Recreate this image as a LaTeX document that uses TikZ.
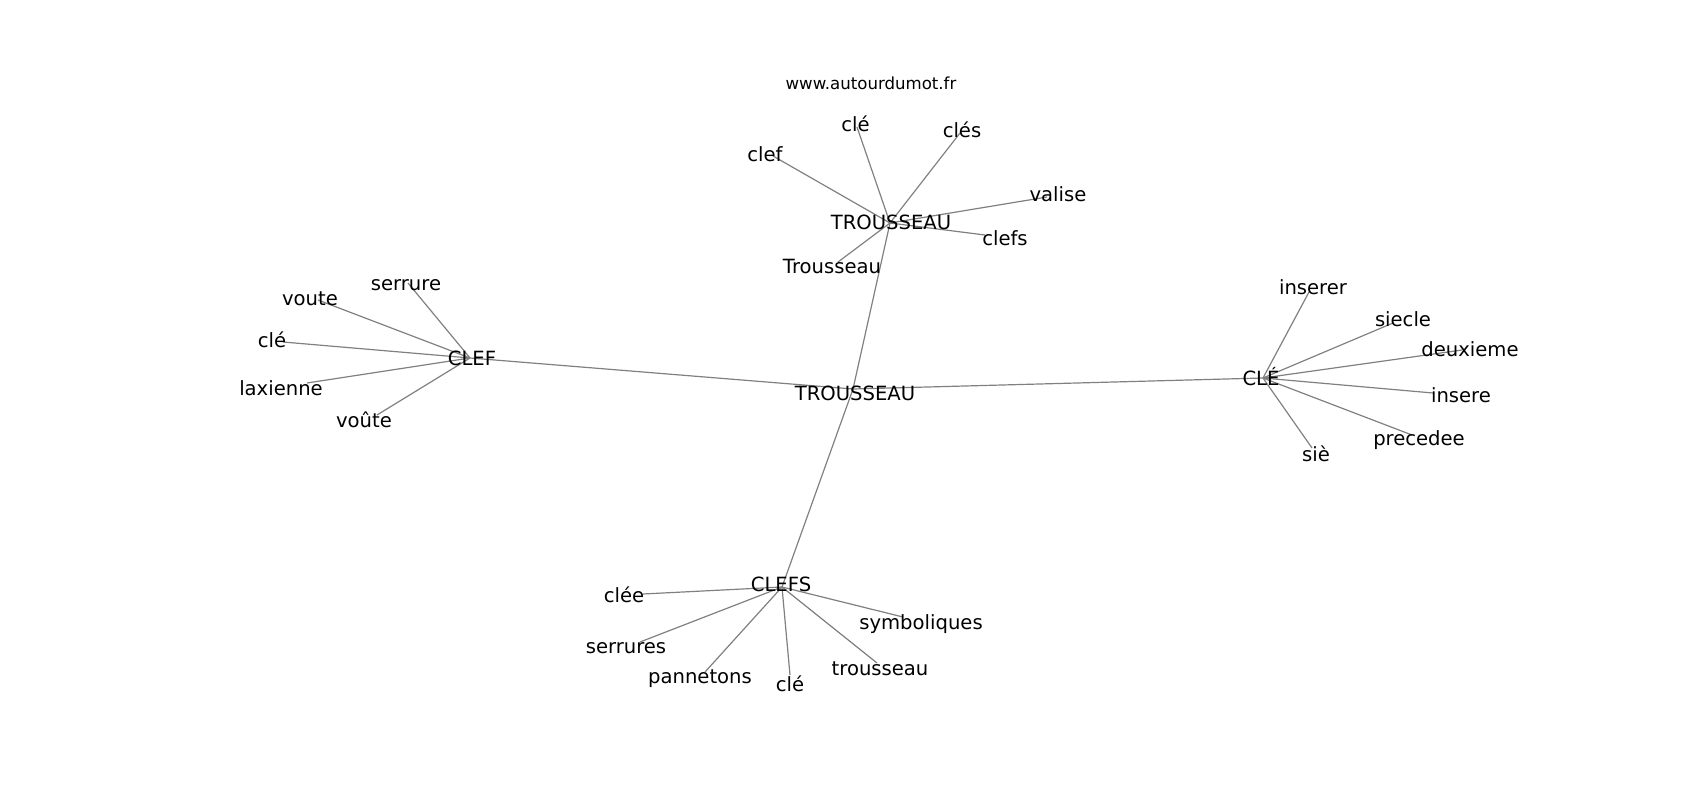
\documentclass[tikz,border=0pt]{standalone}
\usepackage{fontspec}
\setmainfont{DejaVu Sans}
\begin{document}
\begin{tikzpicture}[x=1pt,y=-1pt,
  lbl/.style={font=\fontsize{19.6}{21}\selectfont, inner sep=0pt, text height=14.3pt, text depth=0pt, anchor=center, text=black, yshift=-1.5pt},
  ttl/.style={font=\fontsize{16.6}{18}\selectfont, inner sep=0pt, text height=12.1pt, text depth=0pt, anchor=center, text=black, yshift=-1pt},
  edge/.style={draw=black!50, line width=1.2pt}]
\useasboundingbox (0,0) rectangle (1700,800);
% edge end points (graph positions)
\coordinate (p-T0) at (853,389);
\coordinate (p-T1) at (890,223);
\coordinate (p-cleA) at (857,127);
\coordinate (p-cles) at (960,133);
\coordinate (p-clef) at (773,156);
\coordinate (p-valise) at (1047,197);
\coordinate (p-clefs) at (985,235);
\coordinate (p-Trousseau) at (838,262);
\coordinate (p-CLEF) at (470,358);
\coordinate (p-serrure) at (408,283);
\coordinate (p-voute) at (318,300);
\coordinate (p-cleB) at (283,342);
\coordinate (p-laxienne) at (307,383);
\coordinate (p-voute2) at (377,415);
\coordinate (p-CLE) at (1263,378);
\coordinate (p-inserer) at (1309,292);
\coordinate (p-siecle) at (1393,323);
\coordinate (p-deuxieme) at (1462,350);
\coordinate (p-insere) at (1433,393);
\coordinate (p-precedee) at (1412,435);
\coordinate (p-sie) at (1312,448);
\coordinate (p-CLEFS) at (782,587);
\coordinate (p-clee) at (643,594);
\coordinate (p-serrures) at (640,642);
\coordinate (p-pannetons) at (705,672);
\coordinate (p-cleC) at (790,675);
\coordinate (p-trousseau) at (877,663);
\coordinate (p-symboliques) at (903,617);
% edges
\foreach \a/\b in {T0/T1,T0/CLEF,T0/CLE,T0/CLEFS,
  T1/cleA,T1/cles,T1/clef,T1/valise,T1/clefs,T1/Trousseau,
  CLEF/serrure,CLEF/voute,CLEF/cleB,CLEF/laxienne,CLEF/voute2,
  CLE/inserer,CLE/siecle,CLE/deuxieme,CLE/insere,CLE/precedee,CLE/sie,
  CLEFS/clee,CLEFS/serrures,CLEFS/pannetons,CLEFS/cleC,CLEFS/trousseau,CLEFS/symboliques}
  \draw[edge] (p-\a) -- (p-\b);
% labels
\node[ttl] (title) at (871,82) {www.autourdumot.fr};
\node[lbl] (n-T0) at (855,392) {TROUSSEAU};
\node[lbl] (n-T1) at (891,221) {TROUSSEAU};
\node[lbl] (n-cleA) at (855.5,123) {clé};
\node[lbl] (n-cles) at (962,129) {clés};
\node[lbl] (n-clef) at (765,153) {clef};
\node[lbl] (n-valise) at (1058,193) {valise};
\node[lbl] (n-clefs) at (1005,237) {clefs};
\node[lbl] (n-Trousseau) at (832,265) {Trousseau};
\node[lbl] (n-CLEF) at (472,357) {CLEF};
\node[lbl] (n-serrure) at (406,282) {serrure};
\node[lbl] (n-voute) at (310,297) {voute};
\node[lbl] (n-cleB) at (272,339) {clé};
\node[lbl] (n-laxienne) at (281,387) {laxienne};
\node[lbl] (n-voute2) at (364,419) {voûte};
\node[lbl] (n-CLE) at (1261,377) {CLÉ};
\node[lbl] (n-inserer) at (1313,286) {inserer};
\node[lbl] (n-siecle) at (1403,318) {siecle};
\node[lbl] (n-deuxieme) at (1470,348) {deuxieme};
\node[lbl] (n-insere) at (1461,394) {insere};
\node[lbl] (n-precedee) at (1419,437) {precedee};
\node[lbl] (n-sie) at (1316,453) {siè};
\node[lbl] (n-CLEFS) at (781,583) {CLEFS};
\node[lbl] (n-clee) at (624,594) {clée};
\node[lbl] (n-serrures) at (626,645) {serrures};
\node[lbl] (n-pannetons) at (700,675) {pannetons};
\node[lbl] (n-cleC) at (790,683) {clé};
\node[lbl] (n-trousseau) at (880,667) {trousseau};
\node[lbl] (n-symboliques) at (921,621) {symboliques};
\end{tikzpicture}
\end{document}
